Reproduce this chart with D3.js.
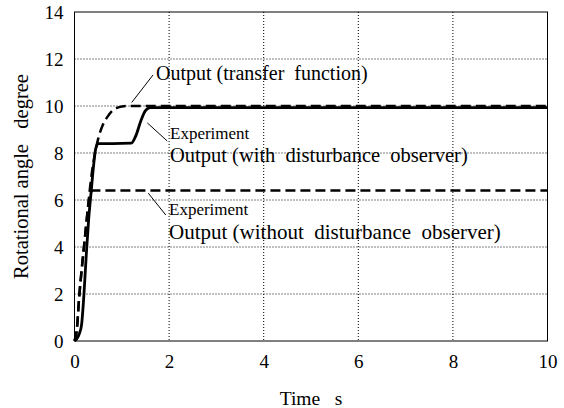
<!DOCTYPE html>
<html>
<head>
<meta charset="utf-8">
<script src="https://cdn.jsdelivr.net/npm/d3@7"></script>
<style>
  html, body { margin: 0; padding: 0; background: #fff; }
  svg { display: block; }
  text { font-family: "Liberation Serif", "Times New Roman", serif; fill: #000; white-space: pre; }
</style>
</head>
<body>
<svg id="chart" width="564" height="408"></svg>
<script>
// ---- data ----
const xTicks = [0, 2, 4, 6, 8, 10];
const yTicks = [0, 2, 4, 6, 8, 10, 12, 14];

const timeTF   = [0, 0.05, 0.1, 0.15, 0.2, 0.25, 0.3, 0.35, 0.4, 0.5, 0.6, 0.7, 0.8, 0.9, 1.0, 1.1, 2, 4, 6, 8, 10];
const angleTF  = [0, 0.5, 1.9, 3.0, 4.0, 5.0, 6.0, 6.9, 7.6, 8.6, 9.2, 9.55, 9.8, 9.92, 9.98, 10, 10, 10, 10, 10, 10];

const timeDOB  = [0, 0.05, 0.1, 0.15, 0.2, 0.25, 0.3, 0.35, 0.4, 0.45, 0.5, 0.8, 1.2, 1.3, 1.4, 1.5, 1.6, 2, 4, 6, 8, 10];
const angleDOB = [0, 0.1, 0.3, 0.7, 2.0, 3.7, 5.2, 6.3, 7.4, 8.2, 8.4, 8.4, 8.42, 8.75, 9.35, 9.8, 9.93, 9.93, 9.93, 9.93, 9.93, 9.93];

const timeNoDOB  = [0, 0.05, 0.1, 0.15, 0.2, 0.25, 0.3, 0.35, 0.4, 2, 4, 6, 8, 10];
const angleNoDOB = [0, 0.5, 1.9, 3.0, 4.0, 5.0, 5.9, 6.35, 6.4, 6.4, 6.4, 6.4, 6.4, 6.4];

const labelTF = "Output (transfer  function)";
const labelExp = "Experiment";
const labelDOB = "Output (with  disturbance  observer)";
const labelNoDOB = "Output (without  disturbance  observer)";
const xTitle = "Time   s";
const yTitle = "Rotational angle   degree";

// ---- layout ----
const svg = d3.select("#chart");
const mLeft = 74.5, mRight = 547.5, mTop = 12, mBottom = 341;
const x = d3.scaleLinear().domain([0, 10]).range([mLeft, mRight]);
const y = d3.scaleLinear().domain([0, 14]).range([mBottom, mTop]);

// grid
const g = svg.append("g");
g.selectAll(".gx").data(xTicks.filter(d => d > 0 && d < 10)).join("line")
  .attr("x1", d => x(d)).attr("x2", d => x(d)).attr("y1", mTop).attr("y2", mBottom)
  .attr("stroke", "#000").attr("stroke-width", 1).attr("stroke-dasharray", "1,2");
g.selectAll(".gy").data(yTicks.filter(d => d > 0 && d < 14)).join("line")
  .attr("y1", d => y(d)).attr("y2", d => y(d)).attr("x1", mLeft).attr("x2", mRight)
  .attr("stroke", "#000").attr("stroke-width", 1).attr("stroke-dasharray", "1,2");

// axes (labels only, no tick marks)
const xAxis = svg.append("g").attr("transform", `translate(0,${mBottom})`)
  .call(d3.axisBottom(x).tickValues(xTicks).tickSize(0).tickPadding(14).tickFormat(d3.format("d")));
const yAxis = svg.append("g").attr("transform", `translate(${mLeft},0)`)
  .call(d3.axisLeft(y).tickValues(yTicks).tickSize(0).tickPadding(11).tickFormat(d3.format("d")));
[xAxis, yAxis].forEach(a => {
  a.select(".domain").remove();
  a.attr("font-family", null);
  a.selectAll("text").style("font-family", '"Liberation Serif", serif').attr("font-size", 19).attr("fill", "#000");
});

// frame
svg.append("rect").attr("x", mLeft).attr("y", mTop).attr("width", mRight - mLeft).attr("height", mBottom - mTop)
  .attr("fill", "none").attr("stroke", "#000").attr("stroke-width", 1);

// lines
const line = d3.line().x(d => x(d[0])).y(d => y(d[1])).curve(d3.curveMonotoneX);
svg.append("path").datum(d3.zip(timeNoDOB, angleNoDOB)).attr("d", line)
  .attr("fill", "none").attr("stroke", "#000").attr("stroke-width", 2.5).attr("stroke-dasharray", "10,5");
svg.append("path").datum(d3.zip(timeDOB, angleDOB)).attr("d", line)
  .attr("fill", "none").attr("stroke", "#000").attr("stroke-width", 2.8);
svg.append("path").datum(d3.zip(timeTF, angleTF)).attr("d", line)
  .attr("fill", "none").attr("stroke", "#000").attr("stroke-width", 2.5).attr("stroke-dasharray", "10,5");

// leader lines (data coords)
const leaders = [
  [[1.21, 10.15], [1.66, 11.32]],
  [[1.54, 9.28], [1.96, 8.51]],
  [[1.56, 6.29], [1.93, 5.36]]
];
svg.selectAll(".leader").data(leaders).join("line")
  .attr("x1", d => x(d[0][0])).attr("y1", d => y(d[0][1]))
  .attr("x2", d => x(d[1][0])).attr("y2", d => y(d[1][1]))
  .attr("stroke", "#000").attr("stroke-width", 1);

// annotations
function txt(s, px, py, size) {
  svg.append("text").attr("x", px).attr("y", py).attr("font-size", size).text(s);
}
txt(labelTF, 156, 80, 20);
txt(labelExp, 170, 139, 17);
txt(labelDOB, 170, 162, 20.5);
txt(labelExp, 169, 215, 17);
txt(labelNoDOB, 169, 239, 21);

// axis titles
svg.append("text").attr("x", (mLeft + mRight) / 2).attr("y", 405).attr("text-anchor", "middle")
  .attr("font-size", 19.5).text(xTitle);
svg.append("text").attr("transform", `translate(28,${(mTop + mBottom) / 2}) rotate(-90)`)
  .attr("text-anchor", "middle").attr("font-size", 20.5).text(yTitle);
</script>
</body>
</html>
